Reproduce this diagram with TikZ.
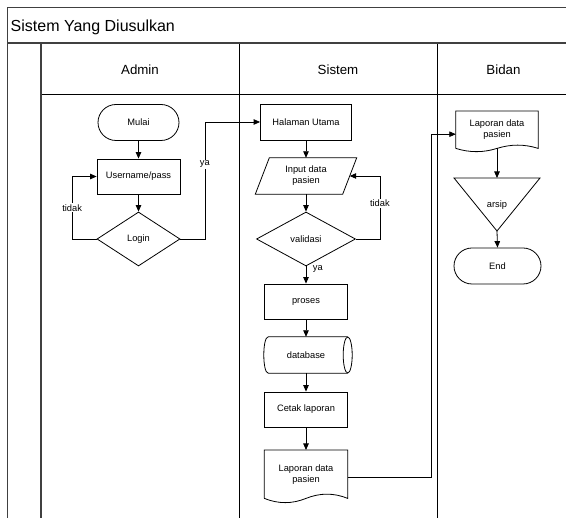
\documentclass[tikz,border=0pt]{standalone}
\usepackage{fontspec}
\setmainfont{Liberation Sans}
\usetikzlibrary{shapes.geometric,shapes.misc,arrows.meta,calc}
\definecolor{poolgray}{HTML}{404040}
\newcommand{\docoutline}[3]{% node, width, height
  \draw[outl] (#1.south west) -- (#1.north west) -- (#1.north east) -- (#1.south east)
    .. controls ($(#1.south east)+(-#2/6,-0.1*#3)$) and ($(#1.south east)+(-#2/3,-0.1*#3)$) .. (#1.south)
    .. controls ($(#1.south)+(-#2/6,0.1*#3)$) and ($(#1.south)+(-#2/3,0.1*#3)$) .. (#1.south west);}
\begin{document}
\begin{tikzpicture}[x=1pt,y=-1pt,
  txt/.style={font=\fontsize{9.3}{11}\selectfont, align=center},
  outl/.style={draw=black, line width=0.8pt},
  shp/.style={outl, txt, inner sep=1pt},
  proc/.style={shp, rectangle, minimum width=83pt, minimum height=35pt},
  term/.style={shp, rounded rectangle, minimum width=83pt, minimum height=36pt},
  dec/.style={shp, diamond, minimum width=83pt, minimum height=54pt, inner sep=0pt},
  holder/.style={draw=none, txt, inner sep=0pt},
  conn/.style={line width=0.8pt, -{Triangle[length=6.5pt,width=5.5pt]}},
  lbl/.style={txt, fill=white, inner sep=1pt},
  pool/.style={draw=poolgray, line width=1.6pt},
  lane/.style={draw=black, line width=0.9pt},
  hdr/.style={font=\fontsize{13.3}{16}\selectfont, inner sep=0pt, anchor=base},
]
\useasboundingbox (0,0) rectangle (566,518);
% swimlanes
\draw[lane] (41,94) -- (580,94);
\draw[lane] (239,43) -- (239,530);
\draw[lane] (437,43) -- (437,530);
\draw[pool] (580,7.5) -- (7.5,7.5) -- (7.5,530);
\draw[pool] (7.5,43) -- (580,43);
\draw[pool] (41,43) -- (41,530);
\node[anchor=base west, inner sep=0pt, font=\fontsize{16}{19}\selectfont] (title) at (10.5,31.7) {Sistem Yang Diusulkan};
\node[hdr] (hadmin) at (140,74.5) {Admin};
\node[hdr] (hsistem) at (338,74.5) {Sistem};
\node[hdr] (hbidan) at (503.5,74.5) {Bidan};

% Admin
\node[term] (mulai) at (138.5,122.5) {Mulai};
\node[proc] (user) at (138.5,176.5) {Username/pass};
\node[dec] (login) at (138.5,239) {Login};

% Sistem
\node[proc, minimum width=91pt, minimum height=36pt] (hal) at (306,122) {Halaman Utama};
\node[holder, minimum width=101pt, minimum height=36pt] (input) at (306,176) {Input data\\pasien};
\draw[outl] ($(input.north west)+(14,0)$) -- (input.north east) -- ($(input.south east)-(14,0)$) -- (input.south west) -- cycle;
\coordinate (inR) at ($(input.east)-(7,0)$);
\node[dec, minimum width=99pt] (valid) at (306,239) {validasi};
\node[proc] (proses) at (306,301.5) {proses};
\node[holder, minimum width=83pt, minimum height=36pt] (db) at (306,355) {database};
\draw[outl] ($(db.north west)+(4,0)$) -- (db.north east) (db.south east) -- ($(db.south west)+(4,0)$)
  .. controls ($(db.south west)+(-2,0)$) and ($(db.north west)+(-2,0)$) .. ($(db.north west)+(4,0)$);
\draw[outl] (db.east) ellipse [x radius=4.5pt, y radius=18pt];
\node[proc] (cetak) at (306,409.5) {Cetak laporan};
\node[holder, minimum width=83pt, minimum height=48pt, anchor=north] (doc1) at (306,450) {Laporan data\\pasien};
\docoutline{doc1}{83}{56.5}

% Bidan
\node[holder, minimum width=82pt, minimum height=37pt, anchor=north] (doc2) at (497,111) {Laporan data\\pasien};
\docoutline{doc2}{82}{43.5}
\node[holder] (arsip) at (497,205) {arsip};
\coordinate (triTop) at (497,178);
\coordinate (triApex) at (497,231);
\draw[outl] (454,178) -- (540,178) -- (triApex) -- cycle;
\node[term, minimum width=89pt] (end) at (497.5,266) {End};

% connectors
\draw[conn] (mulai.south) -- (user.north);
\draw[conn] (user.south) -- (login.north);
\draw[conn] (login.west) -- ++(-24.5,0) |- node[lbl, pos=0.25] {tidak} (user.west);
\draw[conn] (login.east) -- ++(24.5,0) |- node[lbl, pos=0.32] {ya} (hal.west);
\draw[conn] (hal.south) -- (input.north);
\draw[conn] (input.south) -- (valid.north);
\draw[conn] (valid.east) -- ++(24,0) |- node[lbl, pos=0.285] {tidak} (inR);
\draw[conn] (valid.south) -- node[txt, anchor=west, inner sep=0pt, pos=0.14, xshift=6.5pt] {ya} (proses.north);
\draw[conn] (proses.south) -- (db.north);
\draw[conn] (db.south) -- (cetak.north);
\draw[conn] (cetak.south) -- (doc1.north);
\draw[conn] ([yshift=-3pt]doc1.east) -- ++(84,0) |- ([yshift=-4.5pt]doc2.west);
\draw[conn] (doc2.south) -- (triTop);
\draw[conn] (triApex) -- (end.north);
\end{tikzpicture}
\end{document}
